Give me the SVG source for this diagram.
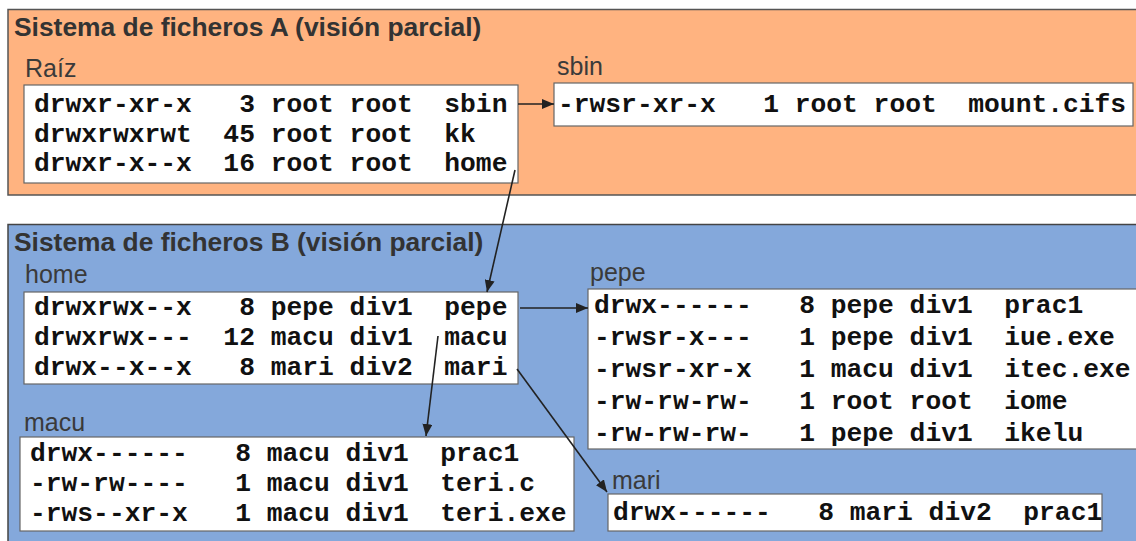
<svg xmlns="http://www.w3.org/2000/svg" width="1136" height="541" viewBox="0 0 1136 541">
<defs>
<style>
.panelA{fill:#FFB380;stroke:#555;stroke-width:1.5}
.panelB{fill:#84A8DB;stroke:#444;stroke-width:1.5}
.box{fill:#fff;stroke:#666;stroke-width:1.2}
.title{font-family:"Liberation Sans",Arial,sans-serif;font-weight:bold;font-size:26.4px;fill:#333}
.lbl{font-family:"Liberation Sans",Arial,sans-serif;font-size:25px;fill:#3a3a3a}
.mono{font-family:"Liberation Mono","Courier New",monospace;font-weight:bold;font-size:26.3px;fill:#111;white-space:pre}
.conn{stroke:#222;stroke-width:1.6;fill:none;marker-end:url(#ah)}
</style>
<marker id="ah" viewBox="0 0 12 10" refX="12" refY="5" markerWidth="12" markerHeight="10" markerUnits="userSpaceOnUse" orient="auto">
<path d="M0,0 L12,5 L0,10 Z" fill="#222"/>
</marker>
</defs>
<rect width="1136" height="541" fill="#fff"/>
<g id="panelA">
<rect class="panelA" x="8" y="9.5" width="1140" height="185.5"/>
<text class="title" x="14" y="36">Sistema de ficheros A (visión parcial)</text>
</g>
<g id="panelB">
<rect class="panelB" x="8" y="224.5" width="1140" height="330"/>
<text class="title" x="14" y="251">Sistema de ficheros B (visión parcial)</text>
</g>
<g id="raiz">
<text class="lbl" x="25" y="77">Raíz</text>
<rect class="box" x="24" y="85" width="494" height="98"/>
<text class="mono" x="34" y="112" xml:space="preserve">drwxr-xr-x   3 root root  sbin</text>
<text class="mono" x="34" y="141.5" xml:space="preserve">drwxrwxrwt  45 root root  kk</text>
<text class="mono" x="34" y="171" xml:space="preserve">drwxr-x--x  16 root root  home</text>
</g>
<g id="sbin">
<text class="lbl" x="557" y="75">sbin</text>
<rect class="box" x="554" y="83" width="579" height="43"/>
<text class="mono" x="558" y="112" xml:space="preserve">-rwsr-xr-x   1 root root  mount.cifs</text>
</g>
<g id="home">
<text class="lbl" x="25" y="283">home</text>
<rect class="box" x="24" y="292" width="494" height="92"/>
<text class="mono" x="34" y="315" xml:space="preserve">drwxrwx--x   8 pepe div1  pepe</text>
<text class="mono" x="34" y="345" xml:space="preserve">drwxrwx---  12 macu div1  macu</text>
<text class="mono" x="34" y="375" xml:space="preserve">drwx--x--x   8 mari div2  mari</text>
</g>
<g id="pepe">
<text class="lbl" x="590" y="281">pepe</text>
<rect class="box" x="588" y="289" width="560" height="160"/>
<text class="mono" x="594" y="313" xml:space="preserve">drwx------   8 pepe div1  prac1</text>
<text class="mono" x="594" y="345" xml:space="preserve">-rwsr-x---   1 pepe div1  iue.exe</text>
<text class="mono" x="594" y="377" xml:space="preserve">-rwsr-xr-x   1 macu div1  itec.exe</text>
<text class="mono" x="594" y="409" xml:space="preserve">-rw-rw-rw-   1 root root  iome</text>
<text class="mono" x="594" y="441" xml:space="preserve">-rw-rw-rw-   1 pepe div1  ikelu</text>
</g>
<g id="macu">
<text class="lbl" x="24" y="431">macu</text>
<rect class="box" x="20" y="437" width="554" height="94"/>
<text class="mono" x="30" y="461" xml:space="preserve">drwx------   8 macu div1  prac1</text>
<text class="mono" x="30" y="491" xml:space="preserve">-rw-rw----   1 macu div1  teri.c</text>
<text class="mono" x="30" y="521" xml:space="preserve">-rws--xr-x   1 macu div1  teri.exe</text>
</g>
<g id="mari">
<text class="lbl" x="612" y="489">mari</text>
<rect class="box" x="608" y="494" width="494" height="37"/>
<text class="mono" x="613" y="520" xml:space="preserve">drwx------   8 mari div2  prac1</text>
</g>
<g id="connectors">
<line class="conn" x1="518" y1="104" x2="554" y2="104"/>
<line class="conn" x1="515" y1="170" x2="487" y2="292"/>
<line class="conn" x1="520" y1="308" x2="588" y2="308"/>
<line class="conn" x1="438" y1="336" x2="426" y2="436"/>
<line class="conn" x1="517" y1="369" x2="607" y2="492"/>
</g>
</svg>
